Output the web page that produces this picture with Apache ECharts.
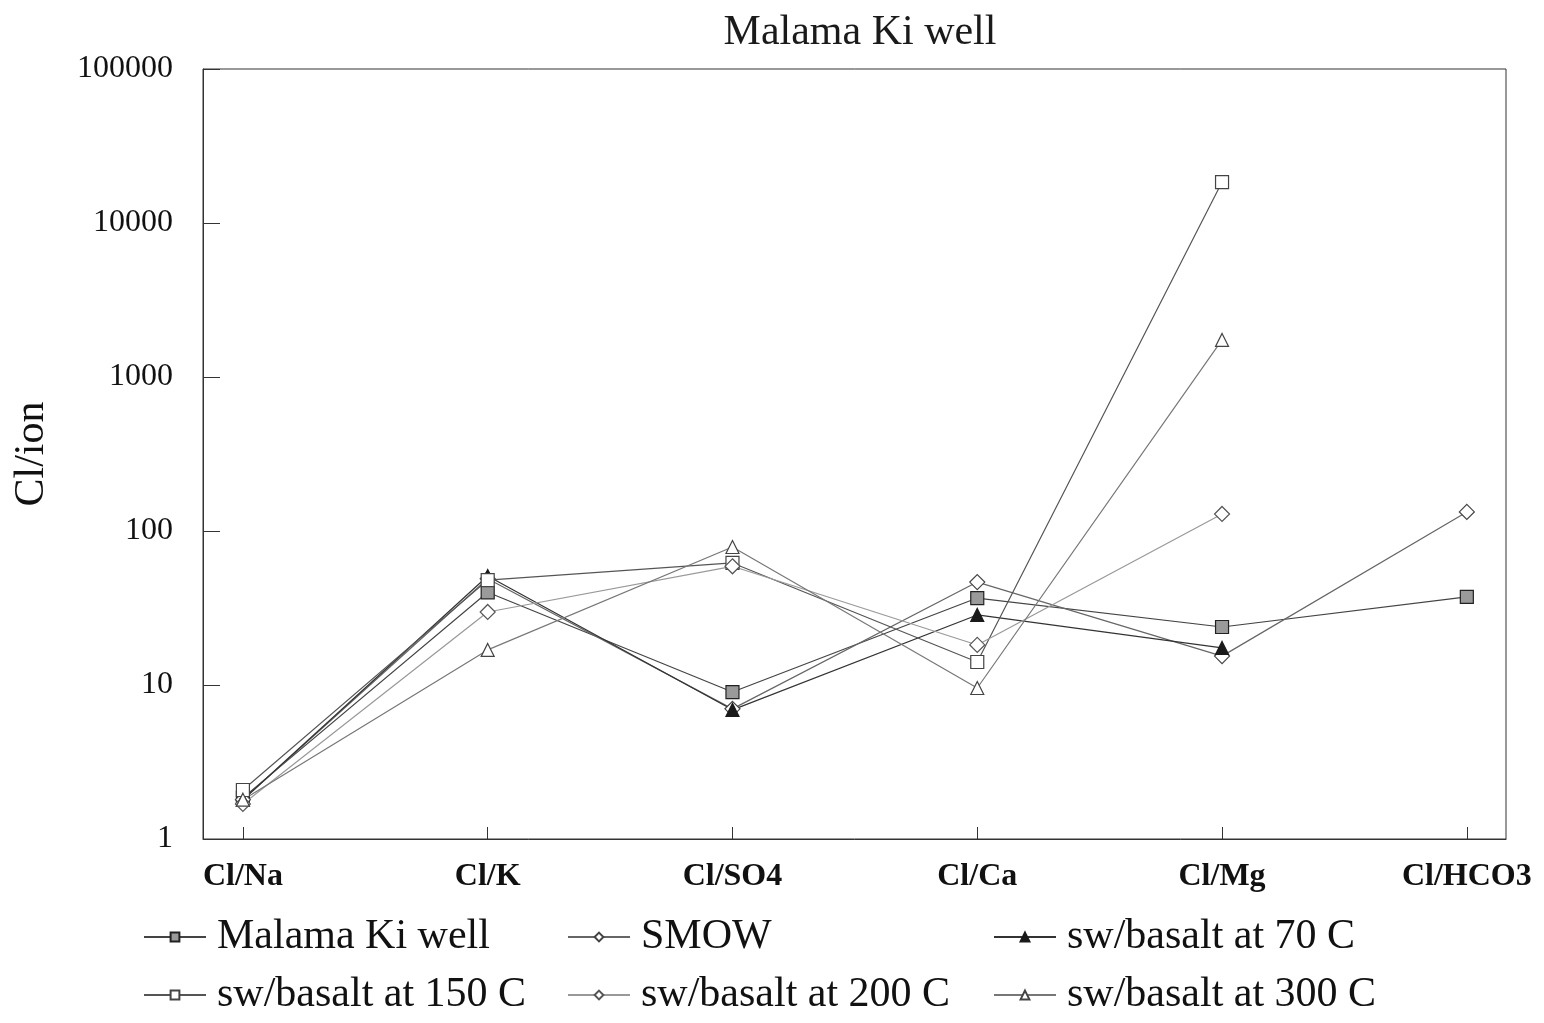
<!DOCTYPE html>
<html>
<head>
<meta charset="utf-8">
<script src="https://cdn.jsdelivr.net/npm/echarts@6/dist/echarts.min.js"></script>
<style>
html,body{margin:0;padding:0;background:#fff;}
#chart{width:1544px;height:1023px;}
</style>
</head>
<body>
<div id="chart"></div>
<script>
const categories = ['Cl/Na', 'Cl/K', 'Cl/SO4', 'Cl/Ca', 'Cl/Mg', 'Cl/HCO3'];
const yTicks = [1, 10, 100, 1000, 10000, 100000];
const malama = [1.85, 40, 9.0, 36.7, 23.8, 37.3];
const smow   = [1.8, 49, 7.0, 46.6, 15.4, 133];
const sw70   = [1.8, 51, 6.9, 28.5, 17.4, null];
const sw150  = [2.08, 48, 62, 14.1, 18450, null];
const sw200  = [1.69, 29.8, 59, 18.2, 129, null];
const sw300  = [1.8, 16.9, 78.7, 9.56, 1740, null];

const font = 'Liberation Serif, Times New Roman, serif';
function pts(arr){ return arr.map((v,i)=> v==null ? null : [i, v]).filter(p=>p); }
function ser(name, arr, symbol, fill, border, lineColor){
  return {
    name: name, type: 'line', data: pts(arr),
    symbol: symbol, symbolSize: symbol==='diamond' ? 15 : 13,
    itemStyle: {color: fill, borderColor: border, borderWidth: 1.2},
    lineStyle: {color: lineColor, width: 1.2},
    emphasis: {disabled: true},
    z: 2
  };
}
const chart = echarts.init(document.getElementById('chart'), null, {renderer:'canvas'});
const legendText = {fontFamily: font, fontSize: 42, color: '#111', lineHeight: 44, padding: [0,0,0,6]};
const legendBase = {orient: 'vertical', top: 910, itemWidth: 62, itemHeight: 11, itemGap: 14, textStyle: legendText};
chart.setOption({
  animation: false,
  backgroundColor: '#fff',
  title: {
    text: 'Malama Ki well', left: 855, top: 7, textAlign: 'center',
    textStyle: {fontFamily: font, fontSize: 42, fontWeight: 'normal', color: '#1a1a1a'}
  },
  grid: {left: 203, right: 38, top: 69, bottom: 184, show: true, borderColor: '#333', borderWidth: 1, backgroundColor: 'transparent'},
  legend: [
    Object.assign({left: 138, data: ['Malama Ki well', 'sw/basalt at 150 C']}, legendBase),
    Object.assign({left: 562, data: ['SMOW', 'sw/basalt at 200 C']}, legendBase),
    Object.assign({left: 988, data: ['sw/basalt at 70 C', 'sw/basalt at 300 C']}, legendBase)
  ],
  xAxis: {
    type: 'value', min: -0.163, max: 5.16,
    splitLine: {show: false},
    axisLine: {show: true, onZero: false, lineStyle: {color: '#333'}},
    axisTick: {show: true, inside: true, length: 12, customValues: [0,1,2,3,4,5], lineStyle: {color: '#333'}},
    axisLabel: {customValues: [0,1,2,3,4,5], formatter: v => categories[Math.round(v)], margin: 22,
      fontFamily: font, fontSize: 32, fontWeight: 'bold', color: '#111'}
  },
  yAxis: {
    type: 'log', logBase: 10, min: 1, max: 100000,
    name: 'Cl/ion', nameLocation: 'middle', nameGap: 150, nameRotate: 90,
    nameTextStyle: {fontFamily: font, fontSize: 42, color: '#111'},
    splitLine: {show: false},
    axisLine: {show: true, onZero: false, lineStyle: {color: '#333'}},
    axisTick: {show: true, inside: true, length: 17, lineStyle: {color: '#333'}},
    minorTick: {show: false},
    axisLabel: {margin: 30, fontFamily: font, fontSize: 32, color: '#111',
      formatter: v => String(yTicks.find(t => Math.abs(t - v) / t < 1e-6) ?? v)}
  },
  series: [
    ser('Malama Ki well', malama, 'rect', '#9a9a9a', '#222', '#444'),
    ser('SMOW', smow, 'diamond', '#fff', '#444', '#666'),
    ser('sw/basalt at 70 C', sw70, 'triangle', '#1a1a1a', '#1a1a1a', '#333'),
    ser('sw/basalt at 150 C', sw150, 'rect', '#fff', '#444', '#555'),
    ser('sw/basalt at 200 C', sw200, 'diamond', '#fff', '#555', '#999'),
    ser('sw/basalt at 300 C', sw300, 'triangle', '#fff', '#444', '#777')
  ]
});
</script>
</body>
</html>
